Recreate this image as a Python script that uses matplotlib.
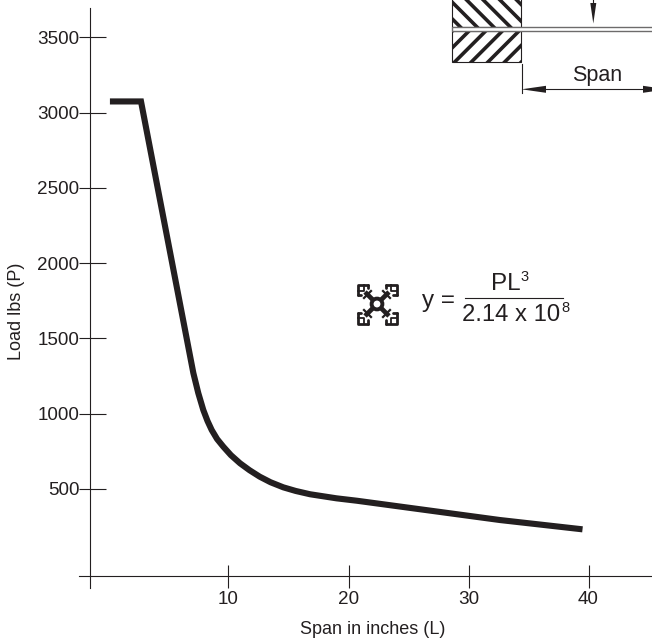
import matplotlib
matplotlib.use("Agg")
import matplotlib.pyplot as plt
from matplotlib.patches import Rectangle, Polygon, Circle

plt.rcParams['font.family'] = ['Liberation Sans', 'DejaVu Sans']
plt.rcParams['hatch.linewidth'] = 2.6
INK = '#231f20'

span_in = [0.12, 2.71, 7.07, 7.48, 7.9, 8.25, 8.6, 9.05, 9.57, 10.2, 10.96, 11.75, 12.6, 13.5, 14.57, 15.6, 16.8, 19.0, 20.7, 32.6, 39.5]
load_lbs = [3075, 3075, 1271, 1138, 1025, 952, 892, 832, 781, 725, 671, 625, 582, 545, 511, 487, 465, 438, 422, 294, 232]
x_ticks = [10, 20, 30, 40]
y_ticks = [500, 1000, 1500, 2000, 2500, 3000, 3500]

fig = plt.figure(figsize=(6.52, 6.42), dpi=100)
ax = fig.add_axes([0, 0, 1, 1])
ax.patch.set_alpha(0)
ax.set_xlim(-9.04, 45.29)
ax.set_ylim(-516.6, 3749)
ax.plot(span_in, load_lbs, color=INK, lw=4.4, solid_capstyle='butt', solid_joinstyle='miter')

for s in ('top', 'right'):
    ax.spines[s].set_visible(False)
ax.spines['left'].set_position(('data', -1.5))
ax.spines['left'].set_bounds(-158, 3696)
ax.spines['bottom'].set_position(('data', -78))
ax.spines['bottom'].set_bounds(-2.46, 45.29)
for s in ('left', 'bottom'):
    ax.spines[s].set_linewidth(0.8)
    ax.spines[s].set_color(INK)

ax.set_xticks(x_ticks)
ax.set_yticks(y_ticks)
ax.set_xticks(x_ticks, minor=True)
ax.set_yticks(y_ticks, minor=True)
ax.xaxis.remove_overlapping_locs = False
ax.yaxis.remove_overlapping_locs = False
ax.tick_params(axis='x', which='major', direction='out', length=8.6, width=0.8, color=INK, labelsize=13.6, labelcolor=INK, pad=2.2)
ax.tick_params(axis='x', which='minor', direction='in', length=7.9, width=0.8, color=INK)
ax.tick_params(axis='y', which='major', direction='out', length=7.6, width=0.8, color=INK, labelsize=13.6, labelcolor=INK, pad=0.5)
ax.tick_params(axis='y', which='minor', direction='in', length=11.2, width=0.8, color=INK)

ax.set_xlabel('Span in inches (L)', fontsize=13, color=INK)
ax.set_ylabel('Load lbs (P)', fontsize=13, color=INK)
ax.xaxis.set_label_coords(372.5 / 652, 1 - 630 / 642)
ax.yaxis.set_label_coords(17 / 652, 1 - 311 / 642)
ax.xaxis.label.set_va('center')
ax.yaxis.label.set_va('center')

# Overlay in pixel units for the beam diagram, the profile icon and the formula
art = fig.add_axes([0, 0, 1, 1], zorder=3)
art.patch.set_alpha(0)
art.set_xlim(0, 652)
art.set_ylim(642, 0)
art.axis('off')

art.add_patch(Rectangle((451.5, -20), 69.5, 46.7, fill=False, hatch='\\\\', edgecolor=INK, lw=0.8))
art.add_patch(Rectangle((451.5, 30.7), 69.5, 31, fill=False, hatch='//', edgecolor=INK, lw=0.8))
art.add_patch(Rectangle((451.5, 26.7), 210, 4, facecolor='white', edgecolor='#6d6b6b', lw=1.0, zorder=4))
art.plot([593.3, 593.3], [-2, 5], color=INK, lw=0.8)
art.add_patch(Polygon([[590.3, 3], [596.3, 3], [593.3, 23.5]], color=INK, lw=0))
art.plot([521.5, 521.5], [64, 92.5], color=INK, lw=0.8)
art.plot([540, 650], [89.3, 89.3], color=INK, lw=0.8)
art.add_patch(Polygon([[521.5, 89.3], [546, 85.8], [546, 92.8]], color=INK, lw=0))
art.add_patch(Polygon([[643, 85.8], [667, 89.3], [643, 92.8]], color=INK, lw=0))
art.text(597, 76, 'Span', fontsize=15.5, color=INK, ha='center', va='center')

cx, cy = 377, 304
for sx in (-1, 1):
    for sy in (-1, 1):
        P = lambda pts: ([cx + sx * a for a, b in pts], [cy + sy * b for a, b in pts])
        kw = dict(color=INK, lw=2.0, solid_capstyle='round', solid_joinstyle='round')
        art.plot(*P([(9, 19.5), (19.5, 19.5), (19.5, 9)]), **kw)
        art.plot(*P([(9, 19.5), (9, 16)]), **kw)
        art.plot(*P([(19.5, 9), (16, 9)]), **kw)
        art.plot(*P([(13.5, 19.5), (13.5, 13.5), (19.5, 13.5)]), lw=1.3, color=INK)
        art.plot(*P([(4, 4), (12, 12)]), color=INK, lw=3.4, solid_capstyle='butt')
        art.plot(*P([(13, 6), (10, 9), (9, 10), (6, 13)]), lw=1.6, color=INK)
art.add_patch(Circle((cx, cy), 5.4, facecolor='white', edgecolor=INK, lw=2.8, zorder=5))

art.text(422, 301, 'y =', fontsize=17.5, color=INK, ha='left', va='center')
art.plot([465, 563], [297.7, 297.7], color=INK, lw=0.8)
art.text(491, 284, 'PL', fontsize=17.5, color=INK, ha='left', va='center')
art.text(520, 277, '3', fontsize=10.5, color=INK, ha='left', va='center')
art.text(462, 315, '2.14 x 10', fontsize=17.2, color=INK, ha='left', va='center')
art.text(561, 308, '8', fontsize=10.5, color=INK, ha='left', va='center')

fig.savefig('out.png', dpi=100, facecolor='white')
